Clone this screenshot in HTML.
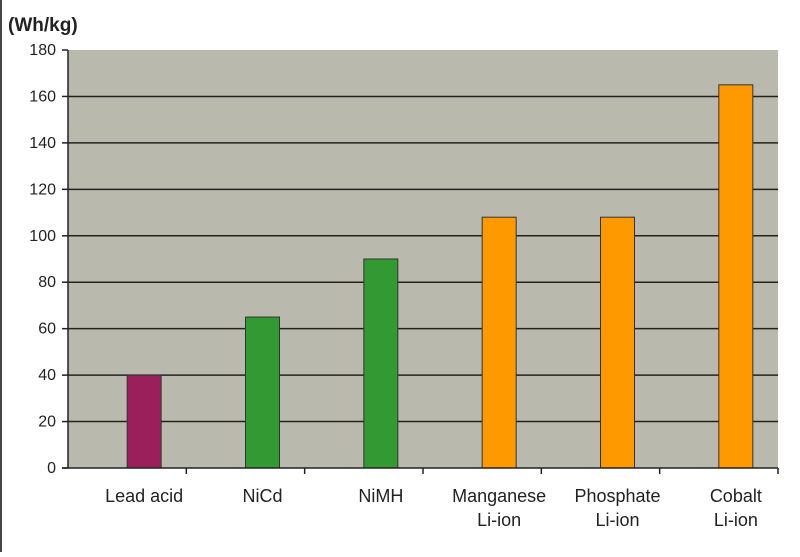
<!DOCTYPE html>
<html><head><meta charset="utf-8"><style>
body{margin:0;background:#fff;width:800px;height:552px;overflow:hidden;font-family:"Liberation Sans",Arial,sans-serif}
</style></head><body>
<svg id="chart" width="800" height="552" xmlns="http://www.w3.org/2000/svg">
<line x1="1" y1="0" x2="1" y2="552" stroke="#444" stroke-width="2"/>
<text x="8" y="31" font-size="19" font-weight="bold" fill="#222">(Wh/kg)</text>
<g id="plot"></g>
</svg>
<script>
const categories = [["Lead acid"],["NiCd"],["NiMH"],["Manganese","Li-ion"],["Phosphate","Li-ion"],["Cobalt","Li-ion"]];
const values = [40, 65, 90, 108, 108, 165];
const colors = ["#9b1f5a","#339933","#339933","#ff9900","#ff9900","#ff9900"];
const yTicks = [0,20,40,60,80,100,120,140,160,180];
const X0=68, X1=778, Y0=468, Y1=50, YMAX=180;
const catW=(X1-X0)/categories.length;
function y(v){return Y0-(v/YMAX)*(Y0-Y1);}
function xc(i){return X0+catW*(i+0.5)+17;}
const ns="http://www.w3.org/2000/svg";
const g=document.getElementById('plot');
function mk(t,a){const e=document.createElementNS(ns,t);for(const k in a)e.setAttribute(k,a[k]);g.appendChild(e);return e;}
let bg=mk('rect',{x:X0,y:Y1,width:X1-X0,height:Y0-Y1,fill:'#bab9ad'});


yTicks.forEach(t=>{
  if(t>0&&t<YMAX){let l=mk('line',{x1:X0,x2:X1,y1:y(t),y2:y(t),stroke:'#222','stroke-width':1.5});
  
  }
  let tk=mk('line',{x1:X0-6,x2:X0,y1:y(t),y2:y(t),stroke:'#222','stroke-width':1.5});
  
  
  let tx=mk('text',{x:X0-12,y:y(t)+5,'text-anchor':'end','font-size':16,fill:'#222'});
  tx.textContent=t;
  
  
});
values.forEach((v,i)=>{
  let r=mk('rect',{x:xc(i)-17,y:y(v),width:34,height:Y0-y(v),fill:colors[i],stroke:'#333','stroke-width':1});
  
  
  let tk=mk('line',{x1:X0+catW*(i+1),x2:X0+catW*(i+1),y1:Y0,y2:Y0+6,stroke:'#222','stroke-width':1.5});
  
  
  categories[i].forEach((s,j)=>{
    let tx=mk('text',{x:xc(i),y:Y0+34+j*24,'text-anchor':'middle','font-size':18,fill:'#222'});
    tx.textContent=s;
    
    
  });
});
let ax=mk('line',{x1:X0,x2:X0,y1:Y1,y2:Y0,stroke:'#222','stroke-width':1.5});


let bx=mk('line',{x1:X0-6,x2:X1,y1:Y0,y2:Y0,stroke:'#222','stroke-width':1.5});


</script>
</body></html>
